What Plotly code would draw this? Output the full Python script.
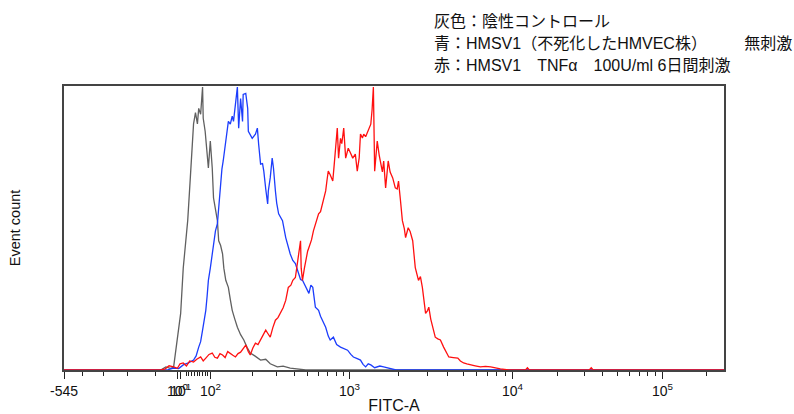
import numpy as np
import plotly.graph_objects as go

# ---------------- data (channel on the logicle display scale, % of mode) ----------------
gray_points = [(0,0),(150,0),(158,1.1),(165,0.6),(170,0.9),(176,10.6),(181,20),(185,36),(189,45),(192,53),
    (196,68),(199,80),(201,87),(204,91),(207,87),(209,92.5),(212,90.4),(215,100),(216,89),(219,84.4),
    (221,78),(223,74.9),(224,71.4),(227,80.9),(230,71.4),(232,60.8),(235,56),(238,52.8),(240,45.7),
    (243,44),(246,41.1),(248,36),(251,31.7),(255,29.2),(258,25),(261,21.1),(265,18),(269,15.1),
    (274,12.5),(279,10.6),(284,8),(289,6),(296,5),(305,3.5),(313,3.8),(320,2.2),(331,1.1),(340,1.4),
    (351,0.7),(362,0.4),(375,0),(1024,0)]

blue_points = [(0,0),(160,0),(170,0.7),(178,0.5),(185,1.8),(193,2.5),(201,3.5),(205,5),(209,8.1),(212,10),
    (215,14.1),(218,18),(220,21.1),(222,26),(224,31.7),(227,36),(230,41.1),(233,46),(235,49.2),(238,51.7),
    (240,57.3),(243,66.8),(245,71),(247,73.9),(250,79),(254,84.4),(255,87.9),(258,86.9),(261,89.7),
    (263,87.9),(266,93.9),(269,100),(271,85.5),(274,96),(277,87.9),(278,97.4),(282,97.8),(285,92.5),
    (286,84.4),(289,83),(292,81.9),(297,83.4),(300,85.5),(302,79.8),(305,72.8),(308,73),(310,70.3),
    (313,64),(316,58.7),(317,63.3),(320,68),(323,74.9),(325,71.4),(328,63.3),(330,59),(333,55.2),
    (336,54),(339,52.8),(344,46.8),(348,43.3),(351,41),(355,38.7),(359,37.6),(364,34.1),(367,32),
    (370,31.7),(375,29.2),(380,27.1),(383,30),(386,29.2),(390,22.2),(395,21.1),(398,19),(401,17.6),
    (406,15.1),(410,12),(413,10.6),(418,11.6),(423,9),(429,8.1),(434,7.5),(440,7.0),(445,5.5),
    (449,4.6),(455,4),(460,3.5),(464,2),(468,1.1),(472,2.2),(476,1.8),(482,0.8),(490,1.4),(496,1.1),
    (506,0.4),(515,0),(1024,0)]

red_points = [(0,0),(150,0),(157,0.4),(163,1.5),(170,1.1),(176,0.6),(180,2.2),(185,2.5),(190,1.4),(195,3.2),
    (201,2.8),(206,3.8),(212,4.6),(216,3.2),(220,4.2),(225,5.5),(230,6.0),(234,4.5),(238,4.2),(242,5.8),
    (246,5.3),(250,4.4),(254,6.5),(258,6.0),(262,5.2),(266,4.6),(270,5.8),(274,6.3),(278,7.5),(282,8.8),
    (286,6.5),(289,5.3),(293,7.8),(297,9.5),(301,9.0),(305,10.6),(309,12.5),(313,14.1),(316,13),
    (320,11.6),(324,15),(328,17.6),(332,18.5),(336,20),(340,22),(344,24.6),(346,27),(348,29.2),(352,30),
    (355,31.7),(359,32.7),(362,38),(364,42.2),(367,45.7),(368,36),(370,31.7),(373,36),(375,38.7),
    (378,42),(380,43.3),(384,46),(387,49.2),(391,52),(395,55.2),(398,56),(401,58.7),(404,61),(406,63.3),
    (408,67),(410,70.3),(413,69),(417,66.8),(419,72),(421,77.4),(424,85.5),(426,74.9),(429,81.9),
    (431,80),(434,85.5),(437,74.9),(441,78.4),(444,77),(448,74.9),(452,76.3),(455,70.3),(458,75),
    (460,83.4),(463,82),(465,83.4),(468,82.5),(471,84.4),(474,86),(476,86.9),(478,92),(480,100),
    (482,70.3),(484,77),(486,80.9),(489,76),(491,73.9),(494,70),(496,73.9),(499,64.4),(503,73.9),
    (506,70),(510,67.9),(514,64.4),(517,64),(519,66.8),(522,60),(525,52.8),(528,50),(530,46.8),
    (534,50.3),(537,49),(541,45.7),(545,36.2),(550,31.7),(553,33),(556,29.2),(559,24),(561,20),
    (564,21),(566,22.2),(569,18),(572,15.1),(576,11.6),(580,11),(584,10.6),(589,8.1),(593,6.5),
    (597,4.6),(604,4.4),(611,4.2),(615,3.2),(620,2.5),(625,2.2),(631,1.8),(638,1.5),(646,1.1),
    (654,1.3),(662,1.1),(670,0.7),(677,0.4),(690,0),(716,0),(719,0.8),(722,0),(815,0),(818,0.8),
    (821,0),(1024,0)]

# axis tick labels (channel positions)
major_tick_channels = [0, 176, 181, 227.3, 443.0, 695.8, 928.6]
major_tick_labels = ["-545", "10<sup>0</sup>", "10<sup>1</sup>", "10<sup>2</sup>",
                     "10<sup>3</sup>", "10<sup>4</sup>", "10<sup>5</sup>"]
negative_minor_channels = [28.2, 61.7, 98.1, 142.0]
low_linear_minor_values = [10, 20, 30, 40, 50, 60, 70, 80, 90]
decade_minor_values = [m * 10 ** d for d in (2, 3, 4) for m in range(2, 10)] + [200000]

# logicle display anchors: log10(intensity) -> channel
decade_anchor_log = [2, 3, 4, 5, np.log10(262144)]
decade_anchor_channel = [227.3, 443.0, 695.8, 928.6, 1024]


def to_channel(v):
    v = np.asarray(v, dtype=float)
    return np.interp(np.log10(v), decade_anchor_log, decade_anchor_channel)


minor_channels = (negative_minor_channels
                  + [185.4 + v / 100 * (227.3 - 185.4) for v in low_linear_minor_values]
                  + list(to_channel(decade_minor_values)))


def unzip(points):
    xs, ys = zip(*points)
    return list(xs), list(ys)


fig = go.Figure()
for pts, color in [(gray_points, "#606060"), (blue_points, "#1c3dfc"), (red_points, "#ff1010")]:
    xs, ys = unzip(pts)
    fig.add_trace(go.Scatter(x=xs, y=ys, mode="lines", line=dict(color=color, width=1.3),
                             showlegend=False, hoverinfo="skip"))

fig.update_layout(
    width=794, height=414,
    margin=dict(l=64, r=70, t=86, b=44),
    paper_bgcolor="white", plot_bgcolor="white",
    font=dict(family="Liberation Sans, Arial, Noto Sans CJK JP", color="#111111"),
    xaxis=dict(
        range=[0, 1024], showgrid=False, zeroline=False, automargin=False,
        showline=True, linecolor="#444444", linewidth=1.5, mirror=True,
        tickmode="array", tickvals=major_tick_channels, ticktext=major_tick_labels,
        ticks="outside", ticklen=7, tickwidth=1, tickcolor="#222222", tickangle=0,
        tickfont=dict(size=14, color="#111111"),
        minor=dict(tickmode="array", tickvals=minor_channels, ticks="outside",
                   ticklen=4, tickwidth=1, tickcolor="#222222"),
        title=dict(text="FITC-A", font=dict(size=16, color="#111111"), standoff=10),
    ),
    yaxis=dict(
        range=[0, 100.4], showgrid=False, zeroline=False, automargin=False,
        showline=True, linecolor="#444444", linewidth=1.5, mirror=True,
        showticklabels=False, ticks="",
        title=dict(text="Event count", font=dict(size=14.5, color="#111111"), standoff=38),
    ),
)

legend_lines = [
    "灰色：陰性コントロール",
    "青：HMSV1（不死化したHMVEC株）\u3000\u3000\u00a0\u00a0\u00a0無刺激",
    "赤：HMSV1\u3000TNFα\u3000100U/ml 6日間刺激",
]
for i, line in enumerate(legend_lines):
    fig.add_annotation(text=line, xref="paper", yref="paper", x=0.558, y=1.226 - i * 0.0765,
                       xanchor="left", yanchor="middle", showarrow=False,
                       font=dict(size=16, family="Liberation Sans, Arial, Noto Sans CJK JP", color="#111111"))

fig.write_html("out.html", config={"displayModeBar": False},
               post_script="document.body.style.margin='0';")
